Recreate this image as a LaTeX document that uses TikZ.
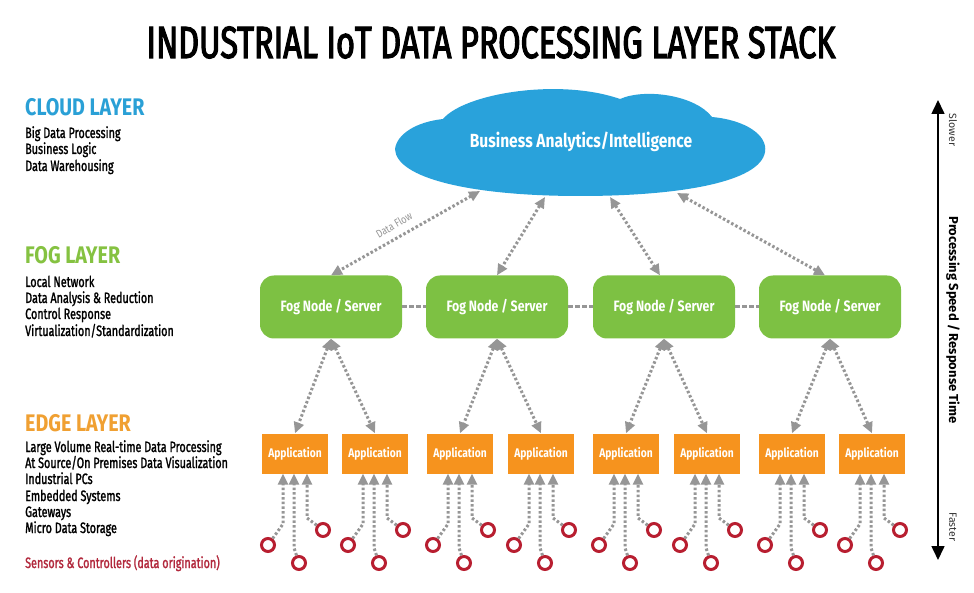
\documentclass[tikz,border=0pt]{standalone}
\usepackage{fontspec}
\setmainfont{Fira Sans}
\newfontfamily\tf{Fira Sans}[FakeStretch=0.72, FakeBold=2.5]
\newfontfamily\cf{Fira Sans}[FakeStretch=0.72, FakeBold=1.4]
\newfontfamily\nf{Fira Sans}[FakeStretch=0.82]
\usetikzlibrary{arrows.meta,calc}
\definecolor{cloudblue}{RGB}{41,162,219}
\definecolor{foggreen}{RGB}{125,193,67}
\definecolor{edgeorange}{RGB}{246,147,30}
\definecolor{sensred}{RGB}{184,30,48}
\definecolor{flowgray}{RGB}{150,150,150}
\definecolor{cloudtxt}{RGB}{42,160,214}
\definecolor{fogtxt}{RGB}{133,194,65}
\definecolor{edgetxt}{RGB}{240,160,50}
\definecolor{senstxt}{RGB}{178,40,60}
\tikzset{
 fognode/.style={fill=foggreen, rounded corners=14pt, minimum width=142pt, minimum height=63pt, text=white, font=\nf\bfseries\fontsize{15}{15}\selectfont},
 appnode/.style={fill=edgeorange, minimum width=66pt, minimum height=40pt, inner sep=0pt, text=white, font=\nf\bfseries\fontsize{12.5}{12.5}\selectfont},
 sensor/.style={circle, draw=sensred, line width=3pt, minimum size=13pt, inner sep=0pt},
 flow/.style={draw=flowgray, line width=3pt, dash pattern=on 2.5pt off 2.2pt, {Triangle[length=11pt,width=10pt]}-{Triangle[length=11pt,width=10pt]}},
 upflow/.style={draw=flowgray, line width=3pt, dash pattern=on 2.5pt off 2.2pt, -{Triangle[length=11pt,width=10pt]}},
 link/.style={draw=flowgray, line width=3pt, dash pattern=on 5pt off 2pt},
 heading/.style={anchor=base west, font=\nf\bfseries\fontsize{24}{24}\selectfont, inner sep=0pt},
 item/.style={anchor=base west, font=\cf\fontsize{15}{15}\selectfont, inner sep=0pt},
}
\begin{document}
\begin{tikzpicture}[x=1pt,y=-1pt]
\fill[white] (0,0) rectangle (974,593);
\useasboundingbox (0,0) rectangle (974,593);
% title
\node[anchor=base, inner sep=0pt, font=\tf\fontsize{45}{45}\selectfont] (title) at (491,58) {INDUSTRIAL IoT DATA PROCESSING LAYER STACK};
% left legend
\node[heading, text=cloudtxt] (hcloud) at (25,116) {CLOUD LAYER};
\node[item] (c1t) at (25,138) {Big Data Processing};
\node[item] (c2t) at (25,154) {Business Logic};
\node[item] (c3t) at (25,171) {Data Warehousing};
\node[heading, text=fogtxt] (hfog) at (25,264) {FOG LAYER};
\node[item] (f1t) at (25,287) {Local Network};
\node[item] (f2t) at (25,303) {Data Analysis \& Reduction};
\node[item] (f3t) at (25,319) {Control Response};
\node[item] (f4t) at (25,336) {Virtualization/Standardization};
\node[heading, text=edgetxt] (hedge) at (25,431) {EDGE LAYER};
\node[item] (e1t) at (25,452) {Large Volume Real-time Data Processing};
\node[item] (e2t) at (25,468) {At Source/On Premises Data Visualization};
\node[item] (e3t) at (25,484) {Industrial PCs};
\node[item] (e4t) at (25,501) {Embedded Systems};
\node[item] (e5t) at (25,517) {Gateways};
\node[item] (e6t) at (25,533) {Micro Data Storage};
\node[item, text=senstxt] (st) at (25,568) {Sensors \& Controllers (data origination)};
% cloud
\fill[cloudblue] (395,149)
 .. controls (397,134) and (416,122) .. (443,119)
 .. controls (465,93) and (560,78) .. (620,99)
 .. controls (645,88) and (695,95) .. (712,117)
 .. controls (745,120) and (768,135) .. (765,152)
 .. controls (760,182) and (680,196) .. (580,196)
 .. controls (470,196) and (396,178) .. (395,149) -- cycle;
\node[text=white, font=\nf\bfseries\fontsize{19}{19}\selectfont] (cloud) at (581,142) {Business Analytics/Intelligence};
\coordinate (cb1) at (480,191);
\coordinate (cb2) at (545,197);
\coordinate (cb3) at (610,197);
\coordinate (cb4) at (677,193);
% fog nodes
\node[fognode] (fog1) at (331,307) {Fog Node / Server};
\node[fognode] (fog2) at (497,307) {Fog Node / Server};
\node[fognode] (fog3) at (664,307) {Fog Node / Server};
\node[fognode] (fog4) at (830,307) {Fog Node / Server};
\draw[link] (fog1.east) -- (fog2.west);
\draw[link] (fog2.east) -- (fog3.west);
\draw[link] (fog3.east) -- (fog4.west);
\draw[flow] (cb1) -- (fog1.north);
\draw[flow] (cb2) -- (fog2.north);
\draw[flow] (cb3) -- ([xshift=-4pt]fog3.north);
\draw[flow] (cb4) -- ([xshift=-5pt]fog4.north);
\node[rotate=30, text=flowgray, inner sep=0pt, font=\nf\fontsize{11}{11}\selectfont] (df) at (394,225) {Data Flow};
% applications
\foreach \i/\x in {1/295,2/375,3/460,4/541,5/626,6/707,7/792,8/872}{
  \node[appnode] (a\i) at (\x,453.5) {Application};
}
\foreach \f/\p/\q in {1/1/2,2/3/4,3/5/6,4/7/8}{
  \draw[flow] (fog\f.south) -- (a\p.north);
  \draw[flow] (fog\f.south) -- (a\q.north);
}
% sensors
\foreach \i/\x in {1/295,2/375,3/460,4/541,5/626,6/707,7/792,8/872}{
  \node[sensor] (s\i a) at (\x-27,545) {};
  \node[sensor] (s\i b) at (\x+4,563) {};
  \node[sensor] (s\i c) at (\x+28,530) {};
  \draw[upflow] (s\i a) -- (\x-12,524) -- ($(a\i.south)+(-12,0)$);
  \draw[upflow] (s\i b) -- (\x-1,548) -- ($(a\i.south)+(-1,0)$);
  \draw[upflow] (s\i c) -- (\x+12,518) -- ($(a\i.south)+(12,0)$);
}
% speed axis
\coordinate (ax1) at (938,100);
\coordinate (ax2) at (938,560);
\draw[line width=1.6pt, {Triangle[length=14pt,width=13pt]}-{Triangle[length=14pt,width=13pt]}] (ax1) -- (ax2);
\node[rotate=-90, font=\bfseries\fontsize{13}{13}\selectfont] (speed) at (953,320) {Processing Speed / Response Time};
\node[rotate=-90, font=\fontsize{10.5}{11}\selectfont, text=black!80] (slow) at (953,130) {Slower};
\node[rotate=-90, font=\fontsize{10.5}{11}\selectfont, text=black!80] (fast) at (953,527) {Faster};
\end{tikzpicture}
\end{document}
